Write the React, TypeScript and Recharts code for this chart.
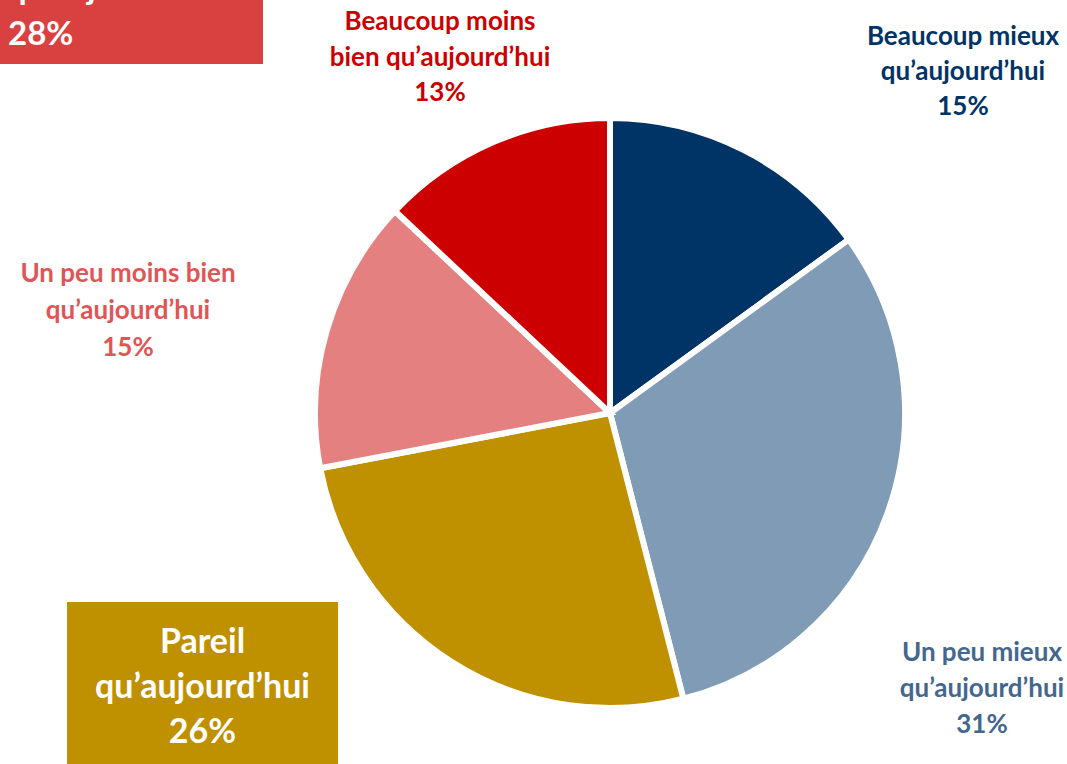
import React from "react";
import { PieChart, Pie, Cell } from "recharts";

const categories = [
  "Beaucoup mieux",
  "Un peu mieux",
  "Pareil",
  "Un peu moins bien",
  "Beaucoup moins",
];
const labelTails = [
  "qu’aujourd’hui",
  "qu’aujourd’hui",
  "qu’aujourd’hui",
  "qu’aujourd’hui",
  "bien qu’aujourd’hui",
];
const shares = [15, 31, 26, 15, 13];
const sliceColors = ["#003366", "#7F9BB5", "#BF9000", "#E48080", "#CC0000"];
const summaryLabel = ["Moins bien", "qu’aujourd’hui"];
const summaryValue = 28;

const font = "Lato, 'Open Sans', sans-serif";

// label boxes placed around the pie
const labelStyles: React.CSSProperties[] = [
  { left: 813, top: 18, width: 300, color: "#003366", lineHeight: "35px" },
  { left: 832, top: 633, width: 300, color: "#44678F", lineHeight: "36px" },
  { left: 67, top: 617, width: 271, color: "#fff", lineHeight: "45px" },
  { left: -22, top: 254, width: 300, color: "#E05555", lineHeight: "37px" },
  { left: 290, top: 3, width: 300, color: "#CC0000", lineHeight: "35.5px" },
];

export default function App() {
  const data = categories.map((name, i) => ({ name, value: shares[i] }));

  return (
    <div
      style={{
        position: "absolute",
        left: 0,
        top: 0,
        width: 1067,
        height: 764,
        overflow: "hidden",
        background: "#fff",
        fontFamily: font,
        fontWeight: 700,
      }}
    >
      <PieChart width={1067} height={764}>
        <Pie
          data={data}
          dataKey="value"
          cx={605}
          cy={408}
          outerRadius={295}
          startAngle={90}
          endAngle={-270}
          stroke="#fff"
          strokeWidth={6}
          isAnimationActive={false}
        >
          {data.map((d, i) => (
            <Cell key={d.name} fill={sliceColors[i]} />
          ))}
        </Pie>
      </PieChart>

      {/* summary box, top-left */}
      <div
        style={{
          position: "absolute",
          left: 0,
          top: -80,
          width: 263,
          height: 144,
          background: "#D94141",
          color: "#fff",
          fontSize: 33,
          lineHeight: "45px",
          paddingLeft: 8,
          boxSizing: "border-box",
        }}
      >
        {summaryLabel.map((l) => (
          <div key={l}>{l}</div>
        ))}
        <div>{summaryValue}%</div>
      </div>

      {/* Pareil box */}
      <div
        style={{
          position: "absolute",
          left: 67,
          top: 602,
          width: 271,
          height: 170,
          background: "#BF9000",
        }}
      />

      {categories.map((c, i) => {
        const big = i === 2;
        return (
          <div
            key={c}
            style={{
              position: "absolute",
              textAlign: "center",
              fontSize: big ? 34 : 26,
              ...labelStyles[i],
            }}
          >
            <div>{c}</div>
            <div>{labelTails[i]}</div>
            <div>{shares[i]}%</div>
          </div>
        );
      })}
    </div>
  );
}
